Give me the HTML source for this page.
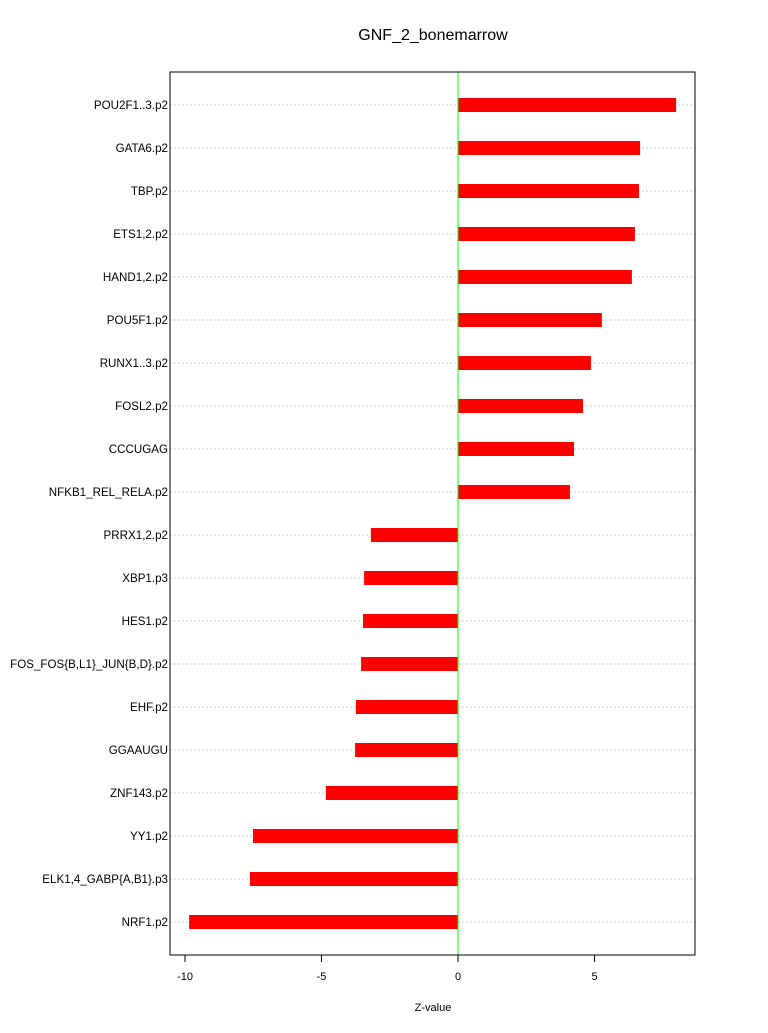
<!DOCTYPE html>
<html><head><meta charset="utf-8"><style>
body{margin:0;background:#fff;}
svg text{font-family:"Liberation Sans",sans-serif;}
</style></head><body>
<svg id="chart" width="768" height="1028" xmlns="http://www.w3.org/2000/svg">
<text x="433" y="40" font-size="16" text-anchor="middle">GNF_2_bonemarrow</text>
<g id="grid"></g>
<g id="bars"></g>
<g id="labels"></g>
<g id="xaxis"></g>
<line x1="458" y1="72" x2="458" y2="955" stroke="#00ff00" stroke-width="1"/>
<rect x="170" y="72" width="525" height="883" fill="none" stroke="#000"/>
<text x="433" y="1011" font-size="11" text-anchor="middle">Z-value</text>
</svg>
<script>
const categories=["POU2F1..3.p2","GATA6.p2","TBP.p2","ETS1,2.p2","HAND1,2.p2","POU5F1.p2","RUNX1..3.p2","FOSL2.p2","CCCUGAG","NFKB1_REL_RELA.p2","PRRX1,2.p2","XBP1.p3","HES1.p2","FOS_FOS{B,L1}_JUN{B,D}.p2","EHF.p2","GGAAUGU","ZNF143.p2","YY1.p2","ELK1,4_GABP{A,B1}.p3","NRF1.p2"];
const values=[7.99,6.67,6.63,6.48,6.37,5.27,4.87,4.58,4.25,4.10,-3.19,-3.44,-3.48,-3.55,-3.74,-3.77,-4.84,-7.51,-7.62,-9.85];
const ticks=[-10,-5,0,5];
const NS="http://www.w3.org/2000/svg";
const xs=v=>458+v*27.3;
const ys=i=>105+i*43;
function mk(t,a,p){const e=document.createElementNS(NS,t);for(const k in a)e.setAttribute(k,a[k]);p.appendChild(e);return e;}
const g=document.getElementById('grid'),b=document.getElementById('bars'),l=document.getElementById('labels'),xa=document.getElementById('xaxis');
categories.forEach((c,i)=>{
 const y=ys(i);
 const gl=mk('line',{x1:170,x2:695,y1:y,y2:y,stroke:'#ccc','stroke-dasharray':'2,2'},g);
 
 
 const v=values[i];
 const r=mk('rect',{x:Math.min(xs(0),xs(v)),y:y-7,width:Math.abs(xs(v)-xs(0)),height:14,fill:'#ff0000'},b);
 
 
 const t=mk('text',{x:168,y:y+4,'font-size':11.6,'text-anchor':'end'},l);
 t.textContent=c;
 
 
});
mk('line',{x1:xs(-10),x2:xs(5),y1:955,y2:955,stroke:'#000'},xa);
ticks.forEach(v=>{
 const tk=mk('line',{x1:xs(v),x2:xs(v),y1:955,y2:962,stroke:'#000'},xa);
 
 
 const t=mk('text',{x:xs(v),y:980,'font-size':11,'text-anchor':'middle'},xa);
 t.textContent=v;
 
 
});
</script>
</body></html>
